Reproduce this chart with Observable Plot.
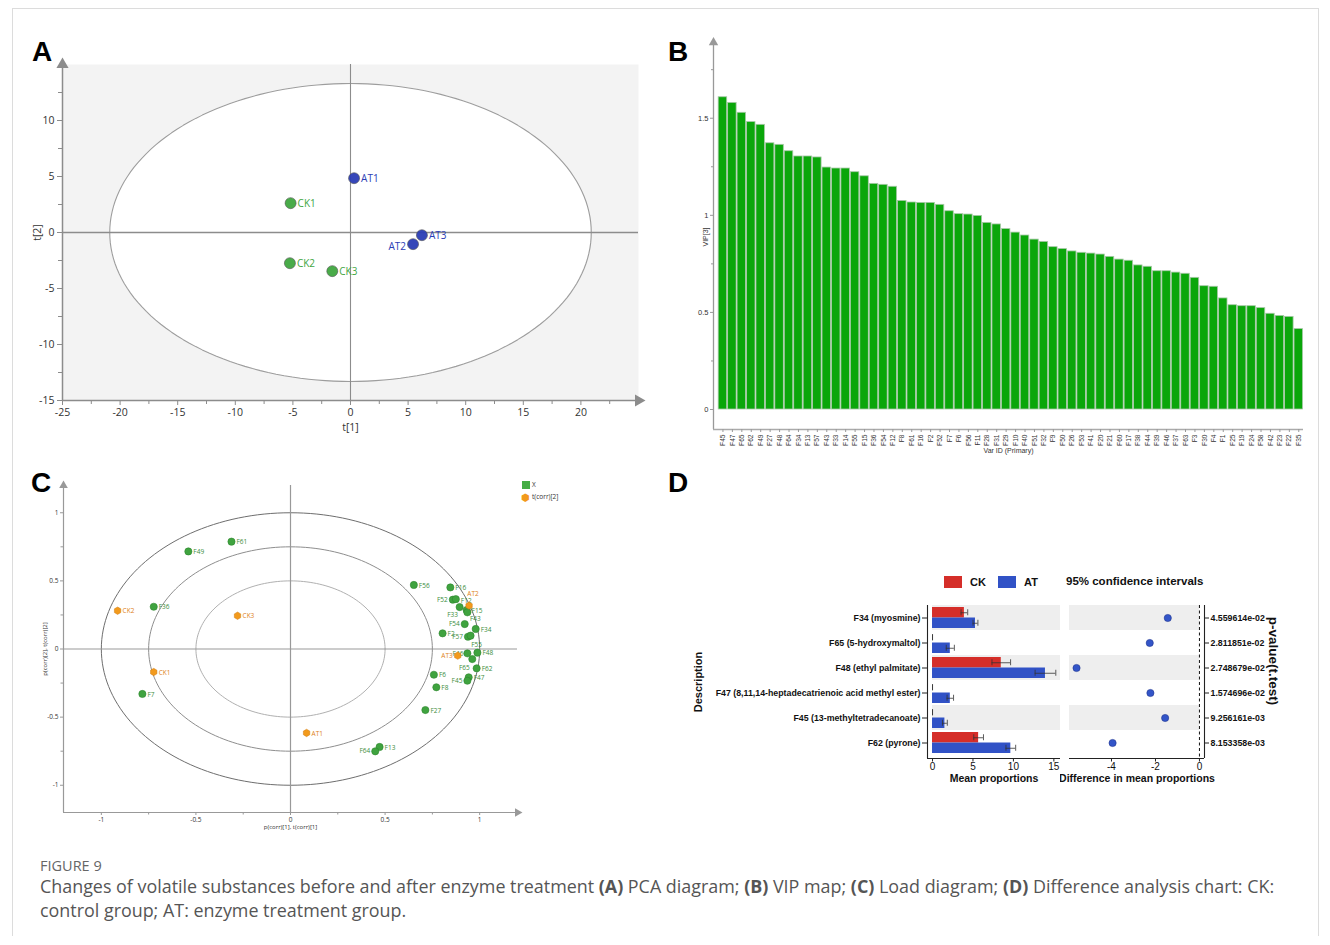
<!DOCTYPE html>
<html><head><meta charset="utf-8">
<script src="https://cdn.jsdelivr.net/npm/d3@7"></script>
<script src="https://cdn.jsdelivr.net/npm/@observablehq/plot@0.6"></script>
<style>
body{margin:0;background:#fff;width:1330px;height:945px;position:relative;overflow:hidden;font-family:"Liberation Sans",Arial,sans-serif;}
.abs{position:absolute;}
.pageframe{position:absolute;left:12px;top:8px;width:1305px;height:927px;border:1px solid #dcdcdc;border-bottom:none;}
.letter{position:absolute;font:bold 28px "Liberation Sans",Arial,sans-serif;color:#000;line-height:28px;}
.leg{position:absolute;font:bold 11px "Liberation Sans",Arial,sans-serif;color:#111;}
.sw{position:absolute;width:18px;height:12px;}
.cap1{position:absolute;left:40px;top:858px;font:14.5px "Open Sans",sans-serif;color:#666;line-height:16px;}
.cap2{position:absolute;left:40px;top:874px;font:17.9px "Open Sans",sans-serif;color:#555;line-height:24px;white-space:nowrap;}
.cap2 b{font-weight:700;color:#555;}
.cleg{position:absolute;font:6.5px "Open Sans",sans-serif;color:#333;}
</style></head><body>
<div class="pageframe"></div>
<script>
// ---------------- Panel A : PCA scores ----------------
const pcaLabels = ["CK1","CK2","CK3","AT1","AT2","AT3"];
const pcaGroup  = ["CK","CK","CK","AT","AT","AT"];
const pcaT1 = [-5.2, -5.26, -1.58, 0.31, 5.43, 6.2];
const pcaT2 = [2.62, -2.74, -3.45, 4.85, -1.04, -0.24];
const pcaEllipse = [20.9, 13.3];           // Hotelling T2 semi-axes
const pcaXTicks = [-25,-20,-15,-10,-5,0,5,10,15,20];
const pcaXMinor = [-22.5,-17.5,-12.5,-7.5,-2.5,2.5,7.5,12.5,17.5,22.5];
const pcaYTicks = [-15,-10,-5,0,5,10];
const pcaYMinor = [-12.5,-7.5,-2.5,2.5,7.5,12.5];
const pcaXDomain = [-25,25], pcaYDomain = [-15,15];

// ---------------- Panel B : VIP ----------------
const vipIds = ["F45","F47","F65","F62","F49","F27","F48","F64","F34","F13","F57","F43","F33","F14","F55","F15","F36","F54","F12","F8","F61","F16","F2","F52","F7","F6","F56","F11","F28","F31","F29","F10",
"F40","F51","F32","F9","F50","F26","F53","F41","F20","F21","F60","F17","F38","F44","F39","F46","F37","F63","F3","F30","F4","F1","F25","F19","F24","F58","F42","F23","F22","F35"];
const vipValues = [1.608,1.579,1.528,1.480,1.466,1.371,1.363,1.330,1.303,1.303,1.298,1.246,1.241,1.241,1.222,1.201,1.162,1.157,1.147,1.074,1.066,1.064,1.064,1.054,1.021,1.006,1.004,0.997,0.961,0.953,0.929,0.911,
0.896,0.875,0.863,0.836,0.826,0.814,0.807,0.803,0.798,0.786,0.772,0.766,0.742,0.735,0.712,0.712,0.705,0.699,0.678,0.635,0.632,0.572,0.537,0.532,0.532,0.522,0.493,0.482,0.477,0.414];
const vipYTicks = [0,0.5,1,1.5];
const vipYMinor = [0.25,0.75,1.25,1.75];

// ---------------- Panel C : loadings ----------------
const loadNames = ["F61","F49","F36","F7","F56","F16","F52","F12","F33","F15","F43","F54","F34","F2","F57","F55","F46","F48","F65","F62","F47","F45","F6","F8","F27","F13","F64"];
const loadX = [-0.312,-0.540,-0.723,-0.783,0.652,0.845,0.858,0.874,0.894,0.931,0.935,0.921,0.979,0.804,0.938,0.952,0.935,0.988,0.961,0.984,0.942,0.935,0.758,0.771,0.713,0.471,0.448];
const loadY = [0.788,0.716,0.310,-0.330,0.470,0.452,0.362,0.366,0.308,0.286,0.269,0.183,0.147,0.115,0.090,0.098,-0.032,-0.027,-0.074,-0.142,-0.208,-0.233,-0.189,-0.281,-0.448,-0.719,-0.751];
const scoreNames = ["CK1","CK2","CK3","AT1","AT2","AT3"];
const scoreX = [-0.723,-0.914,-0.280,0.085,0.944,0.884];
const scoreY = [-0.169,0.281,0.244,-0.616,0.318,-0.049];
const corrRadii = [1, 0.75, 0.5];
const cTicks = [-1,-0.5,0,0.5,1];
const cMinor = [-0.75,-0.25,0.25,0.75];
const cDomain = [-1.2,1.2];

// ---------------- Panel D : difference analysis ----------------
const dNames = ["F34 (myosmine)","F65 (5-hydroxymaltol)","F48 (ethyl palmitate)","F47 (8,11,14-heptadecatrienoic acid methyl ester)","F45 (13-methyltetradecanoate)","F62 (pyrone)"];
const dCK    = [3.94, 0, 8.5, 0, 0, 5.7];
const dCKerr = [0.41, 0, 1.15, 0, 0, 0.6];
const dAT    = [5.31, 2.2, 13.96, 2.2, 1.53, 9.68];
const dATerr = [0.3, 0.5, 1.28, 0.4, 0.3, 0.6];
const dDiff  = [-1.44,-2.26,-5.59,-2.23,-1.56,-3.95];
const dPvals = ["4.559614e-02","2.811851e-02","2.748679e-02","1.574696e-02","9.256161e-03","8.153358e-03"];
const dXTicksL = [0,5,10,15];
const dXTicksR = [-4,-2,0];

// ================= helpers =================
function place(el, left, top){const d=document.createElement("div");d.className="abs";d.style.left=left+"px";d.style.top=top+"px";d.appendChild(el);document.body.appendChild(d);return d;}
function html(cls, left, top, inner, extra){const d=document.createElement("div");d.className=cls;d.style.left=left+"px";d.style.top=top+"px";d.innerHTML=inner;if(extra)Object.assign(d.style,extra);document.body.appendChild(d);return d;}
const AX = "#8c8c8c";
const fmt = d => String(d);

// ================= Panel A =================
{
  const [a,b] = pcaEllipse;
  const ell = d3.range(0,361,2).map(t=>({x:a*Math.cos(t*Math.PI/180), y:b*Math.sin(t*Math.PI/180)}));
  const half = d3.range(0,181,2).map(t=>({x:a*Math.cos(t*Math.PI/180), y1:-b*Math.sin(t*Math.PI/180), y2:b*Math.sin(t*Math.PI/180)}));
  const pts = pcaLabels.map((n,i)=>({n, x:pcaT1[i], y:pcaT2[i], c: pcaGroup[i]==="CK" ? "#3fa63f" : "#2b3db5"}));
  const left = pts.filter(d=>d.n==="AT2"), right = pts.filter(d=>d.n!=="AT2");
  const svg = Plot.plot({
    width:660, height:420, marginLeft:62, marginRight:22, marginTop:34, marginBottom:50,
    x:{domain:pcaXDomain}, y:{domain:pcaYDomain},
    style:{fontFamily:"'Open Sans',sans-serif", fontSize:"10px", color:"#333", background:"transparent"},
    marks:[
      Plot.frame({fill:"#f3f3f3", stroke:null}),
      Plot.areaY(half,{x:"x",y1:"y1",y2:"y2",fill:"white"}),
      Plot.line(ell,{x:"x",y:"y",stroke:"#9d9d9d",strokeWidth:1.1}),
      Plot.ruleX([0],{stroke:AX,strokeWidth:1.1}),
      Plot.ruleY([0],{stroke:AX,strokeWidth:1.5}),
      Plot.ruleX([pcaXDomain[0]],{stroke:AX,strokeWidth:1.5}),
      Plot.ruleY([pcaYDomain[0]],{stroke:AX,strokeWidth:1.5}),
      Plot.dot([{x:pcaXDomain[0],y:pcaYDomain[1]}],{x:"x",y:"y",symbol:"triangle",r:4.5,fill:AX,stroke:null}),
      Plot.dot([{x:pcaXDomain[1],y:pcaYDomain[0]}],{x:"x",y:"y",symbol:"triangle",r:4.5,rotate:90,fill:AX,stroke:null}),
      Plot.axisX(pcaXTicks,{tickSize:5,tickPadding:3,fontSize:10.5,label:null,stroke:AX,tickFormat:fmt}),
      Plot.axisX(pcaXMinor,{tickSize:4,tickFormat:()=>"",label:null,stroke:AX}),
      Plot.axisY(pcaYTicks,{tickSize:5,tickPadding:3,fontSize:10.5,label:null,stroke:AX,tickFormat:fmt}),
      Plot.axisY(pcaYMinor,{tickSize:4,tickFormat:()=>"",label:null,stroke:AX}),
      Plot.dot(pts,{x:"x",y:"y",r:5.5,fill:"c",stroke:"#555",strokeWidth:0.6,fillOpacity:0.95}),
      Plot.text(right,{x:"x",y:"y",text:"n",fill:"c",dx:7,dy:1,textAnchor:"start",fontSize:10}),
      Plot.text(left,{x:"x",y:"y",text:"n",fill:"c",dx:-7,dy:3,textAnchor:"end",fontSize:10}),
      Plot.text(["t[1]"],{text:d=>d,frameAnchor:"bottom",dy:30,fontSize:10.5,fill:"#333",textAnchor:"middle"}),
      Plot.text(["t[2]"],{text:d=>d,frameAnchor:"left",dx:-25,rotate:-90,fontSize:10.5,fill:"#333",textAnchor:"middle"})
    ]
  });
  place(svg,0,30);
}

// ================= Panel B =================
{
  const data = vipIds.map((id,i)=>({id,i,v:vipValues[i]}));
  const yD = [-0.103,1.89], xD=[-0.5,62];
  const svg = Plot.plot({
    width:660, height:450, marginLeft:53, marginRight:17, marginTop:22, marginBottom:41,
    x:{domain:xD}, y:{domain:yD},
    style:{fontFamily:"'Liberation Sans',Arial,sans-serif", fontSize:"7px", color:"#333", background:"transparent"},
    marks:[
      Plot.rectY(data,{x1:d=>d.i+0.05,x2:d=>d.i+0.95,y1:0,y2:"v",fill:"#0aa60a",stroke:"#a8c8a8",strokeWidth:0.8}),
      Plot.ruleX([xD[0]],{stroke:"#999",strokeWidth:1.3}),
      Plot.ruleY([yD[0]],{stroke:"#aaa",strokeWidth:1.3}),
      Plot.dot([{x:xD[0],y:yD[1]}],{x:"x",y:"y",symbol:"triangle",r:3.5,fill:"#999",stroke:null}),
      Plot.axisY(vipYTicks,{tickSize:3,tickPadding:2,fontSize:7.5,label:null,stroke:"#999",tickFormat:fmt}),
      Plot.axisY(vipYMinor,{tickSize:2,tickFormat:()=>"",label:null,stroke:"#999"}),
      Plot.axisX(data.map(d=>d.i+0.5),{tickSize:3,tickPadding:2,tickRotate:-90,fontSize:6.6,label:null,stroke:"#999",tickFormat:t=>vipIds[Math.round(t-0.5)]}),
      Plot.text(["Var ID (Primary)"],{text:d=>d,frameAnchor:"bottom",dy:23,fontSize:7,fill:"#333",textAnchor:"middle"}),
      Plot.text(["VIP[3]"],{text:d=>d,frameAnchor:"left",dx:-8,dy:1,rotate:-90,fontSize:7,fill:"#333",textAnchor:"middle"})
    ]
  });
  place(svg,660,20);
}

// ================= Panel C =================
{
  const circles = corrRadii.map(r=>d3.range(0,361,2).map(t=>({r,x:r*Math.cos(t*Math.PI/180),y:r*Math.sin(t*Math.PI/180)}))).flat();
  const cStroke = {1:"#6e6e6e",0.75:"#8e8e8e",0.5:"#b0b0b0"};
  const lab = {F52:[-5,0,"end"],F12:[5,2,"start"],F33:[-7,8,"middle"],F43:[8,7,"middle"],F54:[-5,0,"end"],F57:[-5,0,"end"],F55:[6,9,"middle"],
               F46:[-4,1,"end"],F65:[-8,9,"middle"],F45:[-5,0,"end"],F64:[-5,0,"end"],AT2:[4,-12,"middle"],AT3:[-5,0,"end"]};
  const L = loadNames.map((n,i)=>({n,x:loadX[i],y:loadY[i],c:"#3a9b3a"}));
  const S = scoreNames.map((n,i)=>({n,x:scoreX[i],y:scoreY[i],c:"#e98a1c"}));
  const all = [...L,...S].map(d=>{const s=lab[d.n]||[5,0.5,"start"];return {...d,dx:s[0],dy:s[1],a:s[2]};});
  const groups = d3.groups(all,d=>d.dx+"|"+d.dy+"|"+d.a);
  const tMarks = groups.map(([k,arr])=>Plot.text(arr,{x:"x",y:"y",text:"n",fill:d=>d.c==="#3a9b3a"?"#3b8d3b":"#de7f19",dx:arr[0].dx,dy:arr[0].dy,textAnchor:arr[0].a,fontSize:6.5}));
  const svg = Plot.plot({
    width:545, height:364, marginLeft:43, marginRight:48, marginTop:9, marginBottom:28,
    x:{domain:cDomain}, y:{domain:cDomain},
    style:{fontFamily:"'Open Sans',sans-serif", fontSize:"6.5px", color:"#333", background:"transparent"},
    marks:[
      Plot.line(circles,{x:"x",y:"y",z:"r",stroke:d=>cStroke[d.r],strokeWidth:1}),
      Plot.ruleX([0],{stroke:"#999",strokeWidth:1.2}),
      Plot.ruleY([0],{stroke:"#999",strokeWidth:1.2}),
      Plot.ruleX([cDomain[0]],{stroke:"#999",strokeWidth:1.2}),
      Plot.ruleY([cDomain[0]],{stroke:"#999",strokeWidth:1.2}),
      Plot.dot([{x:cDomain[0],y:cDomain[1]}],{x:"x",y:"y",symbol:"triangle",r:3.2,fill:"#999",stroke:null}),
      Plot.dot([{x:cDomain[1],y:cDomain[0]}],{x:"x",y:"y",symbol:"triangle",r:3.2,rotate:90,fill:"#999",stroke:null}),
      Plot.axisX(cTicks,{tickSize:3,tickPadding:2,fontSize:6.5,label:null,stroke:"#999",tickFormat:fmt}),
      Plot.axisX(cMinor,{tickSize:2.5,tickFormat:()=>"",label:null,stroke:"#999"}),
      Plot.axisY(cTicks,{tickSize:3,tickPadding:2,fontSize:6.5,label:null,stroke:"#999",tickFormat:fmt}),
      Plot.axisY(cMinor,{tickSize:2.5,tickFormat:()=>"",label:null,stroke:"#999"}),
      ...tMarks,
      Plot.dot(L,{x:"x",y:"y",r:3.6,fill:"#3fa33f",stroke:"#2e862e",strokeWidth:0.6}),
      Plot.dot(S,{x:"x",y:"y",r:3.2,symbol:"hexagon",fill:"#f29a1c",stroke:"#d17a10",strokeWidth:0.5}),
      Plot.text(["p(corr)[1], t(corr)[1]"],{text:d=>d,frameAnchor:"bottom",dy:16,fontSize:6,fill:"#333",textAnchor:"middle"}),
      Plot.text(["p(corr)[2], t(corr)[2]"],{text:d=>d,frameAnchor:"left",dx:-18,rotate:-90,fontSize:6,fill:"#333",textAnchor:"middle"})
    ]
  });
  place(svg,20,476);
  html("abs",522,481,"",{background:"#45ad45",width:"8px",height:"8px"});
  html("cleg",532,480,"X");
  html("cleg",521,490,'<span style="color:#f29a1c;font-size:10px">&#11042;</span>');
  html("cleg",532,492,"t(corr)[2]");
}

// ================= Panel D =================
{
  const rows = dNames.map((n,i)=>({n,i,ck:dCK[i],cke:dCKerr[i],at:dAT[i],ate:dATerr[i],diff:dDiff[i],p:dPvals[i]}));
  const stripes = rows.filter(d=>d.i%2===0);
  const yD = [-0.5,5.62];
  const red="#d52e29", blue="#3152c6";
  const font = "'Liberation Sans',Arial,sans-serif";
  const xL = [-0.62,15.82];
  const left = Plot.plot({
    width:380, height:240, marginLeft:237, marginRight:10, marginTop:45, marginBottom:42,
    x:{domain:xL}, y:{domain:yD, reverse:true},
    style:{fontFamily:font, fontSize:"10px", color:"#111", background:"transparent"},
    marks:[
      Plot.rectX(stripes,{y1:d=>d.i-0.5,y2:d=>d.i+0.5,x1:0,x2:xL[1],fill:"#eeeeee"}),
      Plot.rectX(rows,{y1:d=>d.i-0.42,y2:d=>d.i,x1:0,x2:"ck",fill:red}),
      Plot.rectX(rows,{y1:d=>d.i,y2:d=>d.i+0.42,x1:0,x2:"at",fill:blue}),
      Plot.ruleY(rows,{y:d=>d.i-0.21,x1:d=>d.ck-d.cke,x2:d=>d.ck+d.cke,stroke:"#333",strokeWidth:0.8}),
      Plot.ruleX(rows,{x:d=>d.ck-d.cke,y1:d=>d.i-0.33,y2:d=>d.i-0.09,stroke:"#333",strokeWidth:0.8}),
      Plot.ruleX(rows,{x:d=>d.ck+d.cke,y1:d=>d.i-0.33,y2:d=>d.i-0.09,stroke:"#333",strokeWidth:0.8}),
      Plot.ruleY(rows,{y:d=>d.i+0.21,x1:d=>d.at-d.ate,x2:d=>d.at+d.ate,stroke:"#333",strokeWidth:0.8}),
      Plot.ruleX(rows,{x:d=>d.at-d.ate,y1:d=>d.i+0.09,y2:d=>d.i+0.33,stroke:"#333",strokeWidth:0.8}),
      Plot.ruleX(rows,{x:d=>d.at+d.ate,y1:d=>d.i+0.09,y2:d=>d.i+0.33,stroke:"#333",strokeWidth:0.8}),
      Plot.ruleX([xL[0]],{stroke:"#222",strokeWidth:1.1}),
      Plot.ruleY([yD[1]],{stroke:"#222",strokeWidth:1.1}),
      Plot.axisY(rows.map(d=>d.i),{tickSize:5,tickPadding:2,fontSize:8.8,fontWeight:"bold",label:null,stroke:"#222",tickFormat:i=>dNames[i]}),
      Plot.axisX(dXTicksL,{tickSize:3.5,tickPadding:1,fontSize:10,label:null,stroke:"#222",tickFormat:fmt}),
      Plot.text(["Mean proportions"],{text:d=>d,frameAnchor:"bottom",dy:23,fontSize:10.5,fontWeight:"bold",fill:"#111",textAnchor:"middle"}),
      Plot.text(["Description"],{text:d=>d,frameAnchor:"left",dx:-229,rotate:-90,fontSize:11,fontWeight:"bold",fill:"#111",textAnchor:"middle"})
    ]
  });
  place(left,690,560);
  const xR = [-5.91,0.23];
  const right = Plot.plot({
    width:270, height:240, marginLeft:9, marginRight:126, marginTop:45, marginBottom:42,
    x:{domain:xR}, y:{domain:yD, reverse:true},
    style:{fontFamily:font, fontSize:"10px", color:"#111", background:"transparent"},
    marks:[
      Plot.rectX(stripes,{y1:d=>d.i-0.5,y2:d=>d.i+0.5,x1:xR[0],x2:0,fill:"#eeeeee"}),
      Plot.ruleX([0],{stroke:"#111",strokeWidth:1,strokeDasharray:"3,2.5"}),
      Plot.ruleX([xR[1]],{stroke:"#222",strokeWidth:1.1}),
      Plot.ruleY([yD[1]],{stroke:"#222",strokeWidth:1.1}),
      Plot.dot(rows,{x:"diff",y:"i",r:3.6,fill:"#3355c8",stroke:"#1e3490",strokeWidth:0.6}),
      Plot.axisX(dXTicksR,{tickSize:3.5,tickPadding:1,fontSize:10,label:null,stroke:"#222",tickFormat:fmt}),
      Plot.axisY(rows.map(d=>d.i),{anchor:"right",tickSize:4,tickPadding:2,fontSize:8.8,fontWeight:"bold",label:null,stroke:"#222",tickFormat:i=>dPvals[i]}),
      Plot.text(["Difference in mean proportions"],{text:d=>d,frameAnchor:"bottom",dy:23,fontSize:10.5,fontWeight:"bold",fill:"#111",textAnchor:"middle"}),
      Plot.text(["p-value(t.test)"],{text:d=>d,frameAnchor:"right",dx:69,dy:-21,rotate:90,fontSize:13.5,fontWeight:"bold",fill:"#111",textAnchor:"middle"})
    ]
  });
  place(right,1060,560);
  html("sw",944,576,"",{background:red});
  html("leg",970,576,"CK");
  html("sw",998,576,"",{background:blue});
  html("leg",1024,576,"AT");
  html("leg",1066,575,"95% confidence intervals",{fontSize:"11.5px"});
}

// letters & caption
html("letter",32,38,"A"); html("letter",668,38,"B"); html("letter",31,469,"C"); html("letter",668,469,"D");
html("cap1",40,858,"FIGURE 9");
html("cap2",40,874,'Changes of volatile substances before and after enzyme treatment <b>(A)</b> PCA diagram; <b>(B)</b> VIP map; <b>(C)</b> Load diagram; <b>(D)</b> Difference analysis chart: CK:<br>control group; AT: enzyme treatment group.');
</script>
</body></html>
